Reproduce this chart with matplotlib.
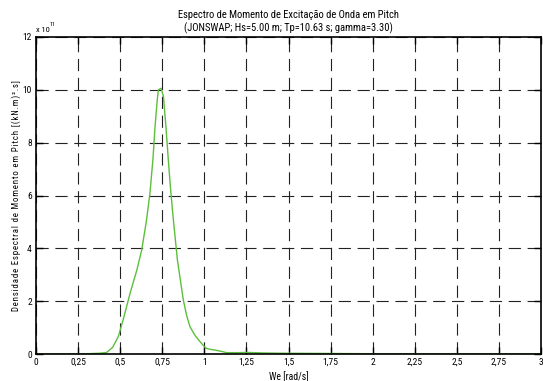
import matplotlib
matplotlib.use("Agg")
import matplotlib.pyplot as plt
from matplotlib import font_manager

# Data (frequency in rad/s, spectral density in units of 1e11)
we = [0.0, 0.25, 0.30, 0.38, 0.42, 0.455, 0.489, 0.52, 0.559, 0.60, 0.628, 0.655, 0.677, 0.695, 0.707,
      0.72, 0.727, 0.743, 0.757, 0.772, 0.786, 0.80, 0.816, 0.83, 0.84, 0.86, 0.875, 0.895, 0.915,
      0.945, 0.974, 1.0, 1.014, 1.04, 1.064, 1.10, 1.133, 1.20, 1.25, 1.35, 1.45, 1.75, 2.0, 2.5, 3.0]
spec = [0.0, 0.0, 0.01, 0.03, 0.06, 0.25, 0.66, 1.35, 2.3, 3.2, 3.94, 5.0, 6.09, 7.4, 8.6,
        9.6, 10.0, 10.06, 9.75, 8.6, 7.35, 6.2, 5.08, 4.2, 3.56, 2.7, 2.05, 1.45, 1.03,
        0.7, 0.47, 0.28, 0.21, 0.17, 0.15, 0.1, 0.05, 0.05, 0.06, 0.04, 0.03, 0.02, 0.01, 0.005, 0.003]

xticks = [0, 0.25, 0.5, 0.75, 1, 1.25, 1.5, 1.75, 2, 2.25, 2.5, 2.75, 3]
xticklabels = ["0", "0,25", "0,5", "0,75", "1", "1,25", "1,5", "1,75", "2", "2,25", "2,5", "2,75", "3"]
yticks = [0, 2, 4, 6, 8, 10, 12]

fams = set(f.name for f in font_manager.fontManager.ttflist)
fam = "Liberation Sans"
for cand in ["Liberation Sans Narrow", "Roboto Condensed", "Open Sans Condensed", "DejaVu Sans Condensed"]:
    if cand in fams:
        fam = cand
        break
plt.rcParams['font.family'] = [fam, 'DejaVu Sans']

fig = plt.figure(figsize=(5.43, 3.81), dpi=100)
ax = fig.add_axes([36/543, 27/381, 505/543, 317/381])
ax.plot(we, spec, color="#5cbf3c", lw=1.0)
ax.set_xlim(0, 3)
ax.set_ylim(0, 12)
ax.set_xticks(xticks)
ax.set_xticklabels(xticklabels)
ax.set_yticks(yticks)
ax.tick_params(direction='in', top=True, right=True, labelsize=6.8, length=5, width=1.0, pad=3)
ax.grid(True, color='#222222', linestyle=(0, (11, 6)), lw=0.8)
for s in ax.spines.values():
    s.set_linewidth(1.2)
ax.set_xlabel("We [rad/s]", fontsize=7, labelpad=3)

ylab_plain = "Densidade Espectral de Momento em Pitch [(kN.m)².s]"
ylab = "\u200a".join(list(ylab_plain))
ax.set_ylabel(ylab, fontsize=6.3, labelpad=6)
ax.yaxis.set_label_coords(-0.03, 0.5)
ax.set_title("Espectro de Momento de Excitação de Onda em Pitch\n(JONSWAP; Hs=5.00 m; Tp=10.63 s; gamma=3.30)",
             fontsize=7.6, pad=4, linespacing=1.3)
ax.text(0.0, 1.012, "x 10", transform=ax.transAxes, fontsize=6, ha='left', va='bottom')
ax.text(0.026, 1.032, "11", transform=ax.transAxes, fontsize=4.5, ha='left', va='bottom')
fig.savefig("out.png", dpi=100)
